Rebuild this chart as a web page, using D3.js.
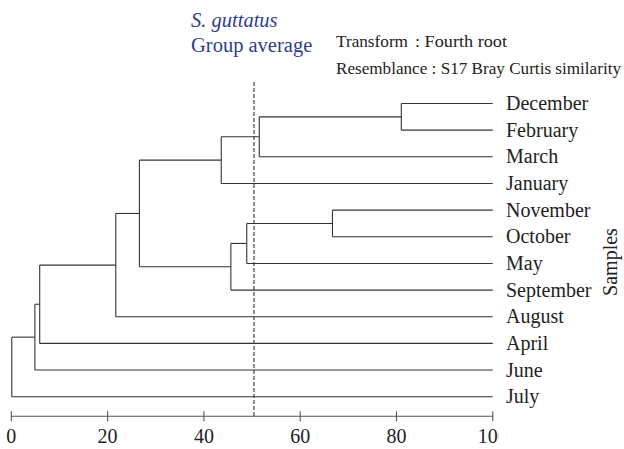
<!DOCTYPE html>
<html>
<head>
<meta charset="utf-8">
<script src="https://cdn.jsdelivr.net/npm/d3@7"></script>
<style>
  html, body { margin: 0; padding: 0; background: #fff; }
  svg { display: block; }
  text { font-family: "Liberation Serif", "DejaVu Serif", serif; }
</style>
</head>
<body>
<div id="chart"></div>
<script>
// ---- data ----
const samples = ["December","February","March","January","November","October","May","September","August","April","June","July"];
// successive joins (J1..J11): members joined and the similarity (%) of the join
const joinA = ["December","J1","J2","November","J4","J5","J3","J7","J8","J9","J10"];
const joinB = ["February","March","January","October","May","September","J6","August","April","June","July"];
const joinSimilarity = [81.0, 51.5, 43.6, 66.7, 48.9, 45.6, 26.6, 21.7, 5.9, 4.9, 0.1];
const tickValues = [0, 20, 40, 60, 80, 100];
const tickLabels = ["0", "20", "40", "60", "80", "100"];
const cutLevel = 50.4;
const titleLines = ["S. guttatus", "Group average"];
const infoKeys = ["Transform", "Resemblance"];
const infoValues = [": Fourth root", ": S17 Bray Curtis similarity"];
const axisLabel = "Samples";

// ---- layout ----
const W = 624, H = 449;
const svg = d3.select("#chart").append("svg").attr("width", W).attr("height", H);

const x = d3.scaleLinear().domain([0, 100]).range([11.3, 492.8]);
const y = d3.scalePoint().domain(samples).range([103.5, 396.7]);

// node positions
const nodes = {};
samples.forEach(s => nodes[s] = { x: x(100), y: y(s) });
const treeColor = "#333";
const g = svg.append("g");
joinA.forEach((a, i) => {
  const b = joinB[i];
  const na = nodes[a], nb = nodes[b];
  const xs = x(joinSimilarity[i]);
  g.append("line").attr("x1", na.x).attr("x2", xs).attr("y1", na.y).attr("y2", na.y)
    .attr("stroke", treeColor).attr("stroke-width", 1.1);
  g.append("line").attr("x1", nb.x).attr("x2", xs).attr("y1", nb.y).attr("y2", nb.y)
    .attr("stroke", treeColor).attr("stroke-width", 1.1);
  g.append("line").attr("x1", xs).attr("x2", xs).attr("y1", na.y).attr("y2", nb.y)
    .attr("stroke", treeColor).attr("stroke-width", 1.1);
  nodes["J" + (i + 1)] = { x: xs, y: (na.y + nb.y) / 2 };
});

// leaf labels
svg.append("g").selectAll("text").data(samples).join("text")
  .attr("x", 506).attr("y", d => y(d)).attr("dy", "0.33em")
  .attr("font-size", 20).attr("fill", "#222").text(d => d);

// axis
const axisY = 416.3;
const clip = svg.append("defs").append("clipPath").attr("id", "axclip");
clip.append("rect").attr("x", 0).attr("y", 0).attr("width", 498.5).attr("height", H);
const axisG = svg.append("g");
axisG.append("line").attr("x1", x(0)).attr("x2", x(100)).attr("y1", axisY).attr("y2", axisY)
  .attr("stroke", "#555").attr("stroke-width", 1.1);
axisG.selectAll("line.tick").data(tickValues).join("line").attr("class", "tick")
  .attr("x1", d => x(d)).attr("x2", d => x(d)).attr("y1", axisY - 5).attr("y2", axisY + 5)
  .attr("stroke", "#555").attr("stroke-width", 1.1);
axisG.append("g").attr("clip-path", "url(#axclip)")
  .selectAll("text.tl").data(tickValues).join("text").attr("class", "tl")
  .attr("x", d => x(d)).attr("y", 443).attr("text-anchor", "middle")
  .attr("font-size", 20).attr("fill", "#222").text((d, i) => tickLabels[i]);

// dashed cut line
svg.append("line").attr("x1", x(cutLevel)).attr("x2", x(cutLevel))
  .attr("y1", 82).attr("y2", axisY)
  .attr("stroke", "#333").attr("stroke-width", 1.1).attr("stroke-dasharray", "4,2");

// titles
svg.append("text").attr("x", 191).attr("y", 27).attr("font-size", 20.5).attr("font-style", "italic")
  .attr("fill", "#2e3d8f").text(titleLines[0]);
svg.append("text").attr("x", 191).attr("y", 52).attr("font-size", 20.5)
  .attr("fill", "#2e3d8f").text(titleLines[1]);

// info lines
svg.append("text").attr("x", 336).attr("y", 47).attr("font-size", 17.5).attr("fill", "#222")
  .attr("textLength", 72).attr("lengthAdjust", "spacingAndGlyphs").text(infoKeys[0]);
svg.append("text").attr("x", 415).attr("y", 47).attr("font-size", 17.5).attr("fill", "#222")
  .attr("textLength", 92).attr("lengthAdjust", "spacingAndGlyphs").text(infoValues[0]);
svg.append("text").attr("x", 336).attr("y", 74).attr("font-size", 16.8).attr("fill", "#222")
  .attr("textLength", 285).attr("lengthAdjust", "spacingAndGlyphs")
  .text(infoKeys[1] + " " + infoValues[1]);

// y label
svg.append("text").attr("transform", "translate(617,262) rotate(-90)")
  .attr("text-anchor", "middle").attr("font-size", 20).attr("fill", "#222").text(axisLabel);
</script>
</body>
</html>
